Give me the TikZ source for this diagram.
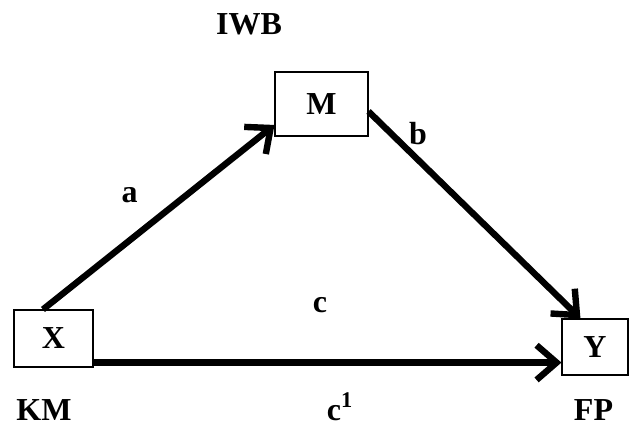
\documentclass[tikz,border=0pt]{standalone}
\usepackage{fontspec}
\setmainfont{Liberation Serif}
\usetikzlibrary{arrows.meta}
\begin{document}
\begin{tikzpicture}[x=0.75pt, y=-0.75pt, font=\fontsize{24}{28}\selectfont\bfseries,
  varbox/.style={draw, line width=0.8pt, inner sep=0pt},
  effect/.style={line width=4.8pt, -{Straight Barb[length=15pt, width=26pt]}}]
\useasboundingbox (0,0) rectangle (629,426);

% the three variables
\node[varbox, minimum width=59.25pt, minimum height=42.75pt] (X) at (53.5,338.5) {X};
\node[varbox, minimum width=69.75pt, minimum height=48pt] (M) at (321.5,104) {M};
\node[varbox, minimum width=49.5pt, minimum height=42pt] (Y) at (595,347) {Y};

% names under / over the boxes
\node[anchor=base] (iwb) at (249,34) {IWB};
\node[anchor=base] (km) at (44,420) {KM};
\node[anchor=base] (fp) at (593.5,420) {FP};

% paths: a, b (indirect) and c (direct)
\draw[effect] (X.110) -- (M.204);
\draw[effect] (M.-9) -- (Y.117);
\draw[effect] (X.-31) -- (X.-31 -| Y.west);

% path labels
\node[anchor=base] (lbla) at (129.5,202) {a};
\node[anchor=base] (lblb) at (418,144) {b};
\node[anchor=base] (lblc) at (320,312) {c};
\node[anchor=base] (lblcone) at (340,420) {c\textsuperscript{1}};
\end{tikzpicture}
\end{document}
